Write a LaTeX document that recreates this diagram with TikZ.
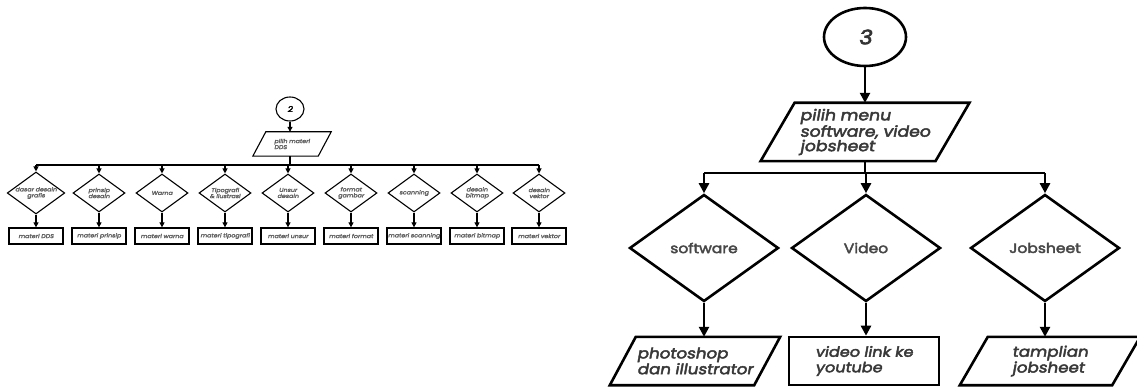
\documentclass[tikz,border=0pt]{standalone}
\usepackage{fontspec}
\setmainfont{Poppins}
\newfontfamily\slantfont{Poppins}[FakeSlant=0.18, FakeBold=3, FakeStretch=1.15]
\newfontfamily\widefont{Poppins}[FakeBold=3, FakeStretch=1.15]
\usetikzlibrary{shapes.geometric,arrows.meta}

% parallelogram outline round a (borderless) rectangular node
\newcommand\slantframe[3]{%
  \draw[#3] ([xshift=-#2pt]#1.south west) -- ([xshift=-#2pt]#1.south east)
    -- ([xshift=#2pt]#1.north east) -- ([xshift=#2pt]#1.north west) -- cycle;}

\tikzset{
  thick line/.style={line width=2.6pt},
  thin line/.style={line width=1.1pt},
  thick arrow/.style={thick line, -{Triangle[length=10pt,width=10pt]}},
  thin arrow/.style={thin line, -{Triangle[length=5pt,width=5pt]}},
  bigtext/.style={font=\slantfont\fontsize{15}{14.5}\selectfont, text=black!78, align=left, inner sep=0pt},
  bigdecision/.style={diamond, draw, thick line, aspect=1.39, minimum width=149pt,
    minimum height=107pt, inner sep=0pt, font=\widefont\fontsize{13.5}{13.5}\selectfont, text=black!72},
  smalltext/.style={font=\slantfont\fontsize{5.5}{6}\selectfont, text=black!62, align=center, inner sep=0pt},
  smalldecision/.style={diamond, draw, thin line, aspect=1.37, minimum width=52pt,
    minimum height=38pt, smalltext},
  smallbox/.style={draw, line width=1.3pt, minimum width=54pt, minimum height=16pt, smalltext},
}

\begin{document}
\begin{tikzpicture}[x=1pt,y=-1pt]
\clip (0,0) rectangle (1137,387);
\fill[white] (0,0) rectangle (1137,387);

% ---------- flow 2 : materi DDS ----------
\node[ellipse, draw, thin line, minimum width=28pt, minimum height=24pt, inner sep=0pt,
  font=\slantfont\fontsize{8}{8}\selectfont] (e2) at (290,109) {2};
\node[smalltext, align=left, minimum width=65pt, minimum height=24pt] (p2) at (292,144)
  {pilih materi\\DDS};
\slantframe{p2}{6.5}{thin line}
\draw[thin arrow] (e2.south) -- (e2.south |- p2.north);
\coordinate (b2) at (290,165);
\draw[thin line] (e2.south |- p2.south) -- (b2);

\foreach \i/\x/\lab/\res in {
  1/36/{dasar desain\\grafis}/materi DDS,
  2/99/{prinsip\\desain}/materi prinsip,
  3/162/Warna/materi warna,
  4/225/{Tipografi\\\& Ilustrasi}/materi tipografi,
  5/288/{Unsur\\desain}/materi unsur,
  6/351/{format\\gambar}/materi format,
  7/414/scanning/materi scanning,
  8/477/{desain\\bitmap}/materi bitmap,
  9/539/{desain\\vektor}/materi vektor} {
  \node[smalldecision] (l\i) at (\x,193) {\lab};
  \node[smallbox] (m\i) at (\x,236) {\res};
  \draw[thin arrow] (l\i |- b2) -- (l\i.north);
  \draw[thin arrow] (l\i.south) -- (m\i.north);
}
\draw[thin line] (l1 |- b2) -- (l9 |- b2);

% ---------- flow 3 : software, video, jobsheet ----------
\node[ellipse, draw, thick line, minimum width=82pt, minimum height=58pt, inner sep=0pt,
  font=\slantfont\fontsize{20}{20}\selectfont, text=black!80] (e3) at (865,37) {3};
\node[bigtext, minimum width=174.5pt, minimum height=58pt] (p3) at (865,132)
  {pilih menu\\software, video\\jobsheet};
\slantframe{p3}{17}{thick line}
\draw[thick arrow] (e3.south) -- (e3.south |- p3.north);
\coordinate (b3) at (865,173);
\draw[thick line] (e3.south |- p3.south) -- (b3);

\node[bigdecision] (d1) at (704,248) {software};
\node[bigdecision] (d2) at (866,248) {Video};
\node[bigdecision] (d3) at (1045,248) {Jobsheet};
\draw[thick line] (d1 |- b3) -- (d3 |- b3);
\foreach \i in {1,2,3} {\draw[thick arrow] (d\i |- b3) -- (d\i.north);}

\node[bigtext, font=\slantfont\fontsize{14.5}{12.5}\selectfont, minimum width=144pt, minimum height=48pt]
  (o1) at (695,361) {photoshop\\dan illustrator};
\slantframe{o1}{13}{thick line}
\node[bigtext, draw, thick line, font=\slantfont\fontsize{14}{15.5}\selectfont,
  minimum width=150pt, minimum height=48pt] (o2) at (864,361) {video link ke\\youtube};
\node[bigtext, font=\slantfont\fontsize{14.5}{14}\selectfont, minimum width=152pt, minimum height=48pt]
  (o3) at (1050,361) {tamplian\\jobsheet};
\slantframe{o3}{14}{thick line}

\draw[thick arrow] (d1.south) -- (d1.south |- o1.north);
\draw[thick arrow] (d2.south) -- (d2.south |- o2.north);
\draw[thick arrow] (d3.south) -- (d3.south |- o3.north);
\end{tikzpicture}
\end{document}
